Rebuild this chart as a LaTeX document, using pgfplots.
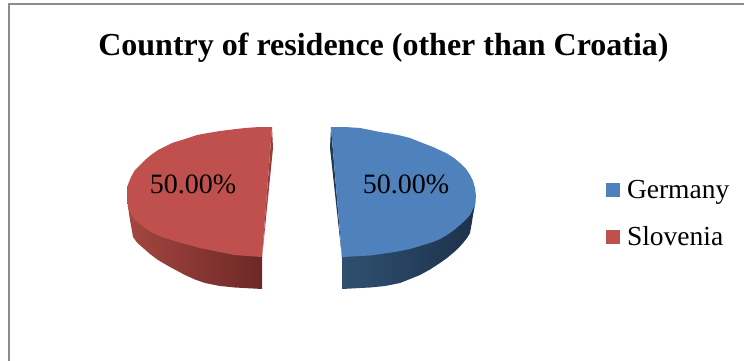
\documentclass[border=0pt]{standalone}
\usepackage{pgfplots}
\pgfplotsset{compat=1.18}
\usepackage{fontspec}
\setmainfont{Liberation Serif}
\definecolor{blueface}{HTML}{4F81BD}
\definecolor{redface}{HTML}{C0504D}
\definecolor{bsA}{RGB}{48,80,112}
\definecolor{bsB}{RGB}{30,50,76}
\definecolor{bsC}{RGB}{29,49,75}
\definecolor{bsD}{RGB}{34,58,88}
\definecolor{rsA}{RGB}{165,70,64}
\definecolor{rsB}{RGB}{138,56,53}
\definecolor{rsC}{RGB}{108,40,38}
\definecolor{rsD}{RGB}{150,62,58}
\begin{document}
\begin{tikzpicture}
\begin{axis}[
  scale only axis, width=744pt, height=361pt,
  xmin=0, xmax=744, ymin=0, ymax=361, y dir=reverse,
  hide axis, clip=true,
  legend style={at={(axis cs:605.5,180)}, anchor=north west, draw=none, fill=none,
    font=\fontsize{27.5}{30}\selectfont, row sep=27pt,
    inner sep=0pt, outer sep=0pt,
    nodes={inner sep=0pt, outer sep=0pt}},
  legend cell align=left,
  legend image code/.code={\fill[#1] (0pt,-7pt) rectangle (14pt,7pt); \path (21.5pt,0pt);},
]
% page extent
\addplot[draw=none, forget plot] coordinates {(0,0) (744,361)};
% frame
\addplot[draw=gray!90, line width=2pt, forget plot] coordinates {(8.5,361) (8.5,4) (744,4)};
% blue side
\addplot[left color=bsA, middle color=bsB, right color=bsC, draw=none, forget plot] coordinates {
 (342,256) (370,254) (395,251) (410,248) (420,245) (433,241) (447,234) (460,224) (470,214) (475,204) (476,196)
 (475,205) (473,215) (472,222) (470,233) (467,238) (463,243) (458,248.5) (453,253) (447,258) (440,263) (430,269.5) (420,275) (410,279) (400,283) (385,286) (370,287.5) (342,289)};
\addplot[fill=bsD, draw=none, forget plot] coordinates {(331,127) (330,148) (342,258)};
% red side
\addplot[left color=rsA, middle color=rsB, right color=rsC, draw=none, forget plot] coordinates {
 (262,256) (234,254) (200,247) (185,243) (162,236) (145,227) (135,219) (128,206) (127,196)
 (128,207) (130,220) (133,237) (137,242.5) (142,247) (150,254) (158,260) (170,267) (185,275) (195,279.5) (205,283) (220,286) (235,287.5) (262,289)};
\addplot[fill=rsD, draw=none, forget plot] coordinates {(272,127) (273,148) (262,258)};
% top faces
\addplot[fill=blueface, draw=none] coordinates {
 (331,127) (345,127) (360,128) (370,130) (380,132) (390,133.5) (400,135.5) (410,138) (420,142) (433,147) (447,153.5) (454,158) (460,163) (466,169) (470,175) (473,181) (475,188) (476,196)
 (475,205) (470,215) (466,219.5) (460,225) (454,230) (447,235) (440,239) (433,242) (420,246) (410,249) (395,252) (370,255.5) (342,257)};
\addlegendentry{Germany}
\addplot[fill=redface, draw=none] coordinates {
 (272,127) (259,127) (245,128) (232,129.5) (220,131) (208,133) (197,135) (185,139) (172,143) (158,150) (151,155) (145,160) (140,165) (135,170) (131,177) (127,187) (127,196)
 (128,207) (131,214) (135,220) (145,228) (153,233) (162,237) (173,240.5) (185,244) (200,248) (234,255) (262,257)};
\addlegendentry{Slovenia}
% labels
\node[font=\fontsize{28}{30}\selectfont] at (axis cs:406,184) {50.00\%};
\node[font=\fontsize{28}{30}\selectfont] at (axis cs:193,184) {50.00\%};
\node[font=\fontsize{32}{36}\bfseries\selectfont] at (axis cs:383.5,47.5) {Country of residence (other than Croatia)};
\end{axis}
\end{tikzpicture}
\end{document}
